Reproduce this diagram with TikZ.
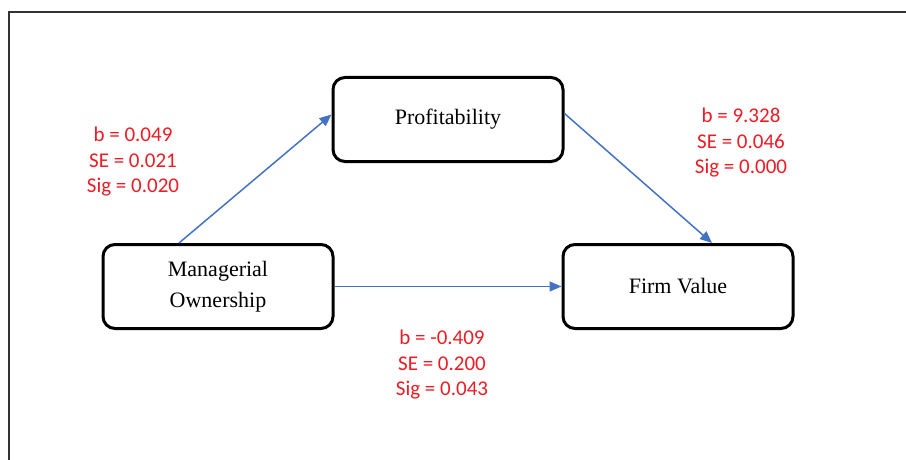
\documentclass[tikz,border=0pt]{standalone}
\usepackage{fontspec}
\setmainfont{Liberation Serif}
\newfontfamily\statfont{Carlito}
\usetikzlibrary{arrows.meta, positioning}
\definecolor{pathblue}{RGB}{68,114,196}
\definecolor{statred}{RGB}{237,28,36}
\definecolor{framegray}{RGB}{51,51,51}

\begin{document}
\begin{tikzpicture}[
        x=1pt, y=1pt,
        varbox/.style={rectangle, draw, line width=3pt, rounded corners=12pt, minimum width=230pt, minimum height=84pt, align=center, font=\fontsize{22}{31}\selectfont},
        stat/.style={align=center, text=statred, font=\statfont\fontsize{21}{25.5}\selectfont},
        arrow/.style={-{Triangle[length=12pt, width=10pt]}, line width=1.5pt, draw=pathblue}
    ]
    \useasboundingbox (0,0) rectangle (906,-460);

    % Frame
    \draw[framegray, line width=2pt] (9,-460) -- (9,-12) -- (906,-12);

    % Variables
    \node[varbox] (mo) at (218,-286.5) {Managerial\\Ownership};
    \node[varbox, right=227pt of mo] (fv) {Firm Value};
    \node[varbox, above right=80pt and -3pt of mo.north east] (prof) {Profitability};

    % Coefficients
    \node[stat] (statmp) at (133,-162) {b = 0.049\\SE = 0.021\\Sig = 0.020};
    \node[stat] (statpf) at (741,-143) {b = 9.328\\SE = 0.046\\Sig = 0.000};
    \node[stat] (statmf) at (442,-365) {b = -0.409\\SE = 0.200\\Sig = 0.043};

    % Paths
    \draw[arrow] ([xshift=-39pt]mo.north) -- ([yshift=5pt]prof.west);
    \draw[arrow] ([yshift=6pt]prof.east) -- ([xshift=34pt]fv.north);
    \draw[arrow] (mo.east) -- (fv.west);

\end{tikzpicture}
\end{document}
